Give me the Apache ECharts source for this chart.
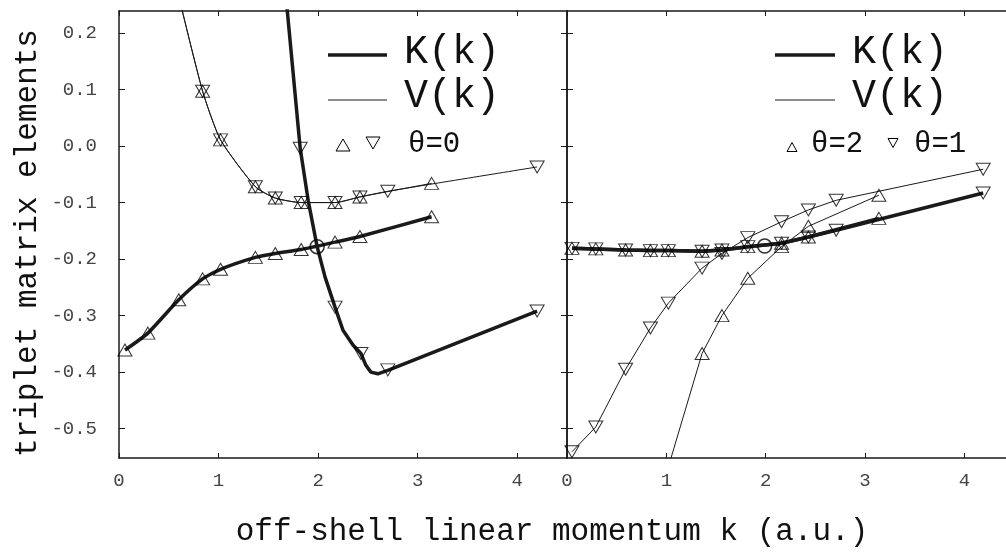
<!DOCTYPE html>
<html>
<head>
<meta charset="utf-8">
<script src="https://cdn.jsdelivr.net/npm/echarts@6/dist/echarts.min.js"></script>
<style>
  html, body { margin: 0; background: #fff; }
  #chart { width: 1006px; height: 559px; }
</style>
</head>
<body>
<div id="chart"></div>
<script>
// tick labels
const xTicks = [0, 1, 2, 3, 4];
const yTicks = [-0.5, -0.4, -0.3, -0.2, -0.1, 0.0, 0.1, 0.2];

// left panel, theta = 0
const kUpK0 = [0.06, 0.29, 0.60, 0.84, 1.02, 1.37, 1.57, 1.83, 2.17, 2.42, 3.14];
const upK0 = [-0.361, -0.331, -0.272, -0.235, -0.218, -0.197, -0.190, -0.183, -0.170, -0.160, -0.125];
const kUpV0 = [0.60, 0.84, 1.02, 1.37, 1.57, 1.83, 2.17, 2.42, 3.14];
const upV0 = [0.265, 0.097, 0.011, -0.072, -0.092, -0.100, -0.100, -0.090, -0.066];
const kDownV0 = [0.60, 0.84, 1.02, 1.37, 1.57, 1.83, 2.17, 2.42, 2.70, 4.20];
const downV0 = [0.265, 0.097, 0.011, -0.072, -0.092, -0.100, -0.100, -0.090, -0.080, -0.037];
const kDownK0 = [1.57, 1.82, 2.17, 2.43, 2.70, 4.20];
const downK0 = [0.46, -0.004, -0.285, -0.367, -0.396, -0.292];
// K curve of the down branch
const kCurveK0 = [1.57, 1.69, 1.82, 1.90, 1.99, 2.07, 2.17, 2.25, 2.35, 2.43, 2.48, 2.53, 2.60, 2.70, 4.20];
const curveK0 = [0.46, 0.24, -0.004, -0.096, -0.178, -0.232, -0.285, -0.326, -0.352, -0.367, -0.388, -0.400, -0.403, -0.397, -0.292];
const onShellK = [1.99];
const onShell0 = [-0.178];

// right panel, theta = 2 (up) and theta = 1 (down)
const kUpK1 = [0.05, 0.29, 0.59, 0.84, 1.02, 1.36, 1.56, 1.82, 2.16, 2.43, 3.14];
const upK1 = [-0.181, -0.182, -0.184, -0.185, -0.185, -0.186, -0.184, -0.178, -0.172, -0.161, -0.128];
const kDownK1 = [0.05, 0.29, 0.59, 0.84, 1.02, 1.36, 1.56, 1.82, 2.16, 2.43, 2.71, 4.19];
const downK1 = [-0.181, -0.182, -0.184, -0.185, -0.185, -0.186, -0.184, -0.178, -0.172, -0.161, -0.149, -0.083];
const kDownV1 = [0.05, 0.29, 0.59, 0.84, 1.02, 1.36, 1.56, 1.82, 2.16, 2.43, 2.71, 4.19];
const downV1 = [-0.541, -0.497, -0.395, -0.322, -0.278, -0.216, -0.190, -0.162, -0.134, -0.113, -0.096, -0.041];
const kUpV1 = [1.02, 1.36, 1.56, 1.82, 2.16, 2.43, 3.14];
const upV1 = [-0.568, -0.367, -0.300, -0.234, -0.178, -0.142, -0.087];
const onShell1 = [-0.177];

const pairs = (ks, vs) => ks.map((k, i) => [k, vs[i]]);

const chart = echarts.init(document.getElementById("chart"), null, {
  width: 1006,
  height: 559,
});

const ink = "#1a1a1a";
const tickFont = { fontFamily: "Liberation Mono", fontSize: 19, color: "#444" };

function xAxis(grid, pos, labels) {
  return {
    type: "value",
    gridIndex: grid,
    position: pos,
    min: 0,
    max: 4.5,
    axisLine: { show: true, onZero: false, lineStyle: { color: ink, width: 1.5 } },
    axisTick: { show: true, inside: true, length: 5, customValues: xTicks, lineStyle: { color: ink } },
    axisLabel: { show: labels, customValues: xTicks, margin: 13, ...tickFont },
    splitLine: { show: false },
  };
}

function yAxis(grid, pos, labels) {
  return {
    type: "value",
    gridIndex: grid,
    position: pos,
    min: -0.552,
    max: 0.239,
    axisLine: { show: true, onZero: false, lineStyle: { color: ink, width: 1.5 } },
    axisTick: { show: true, inside: true, length: 6, customValues: yTicks, lineStyle: { color: ink } },
    axisLabel: {
      show: labels,
      customValues: yTicks,
      margin: 22,
      formatter: (v) => v.toFixed(1),
      ...tickFont,
    },
    splitLine: { show: false },
  };
}

function curve(axis, data, width, smooth) {
  return {
    type: "line",
    xAxisIndex: axis,
    yAxisIndex: axis,
    data: data,
    showSymbol: false,
    smooth: smooth,
    lineStyle: { color: ink, width: width },
    z: 2,
  };
}

function marks(axis, data, down) {
  return {
    type: "scatter",
    xAxisIndex: axis,
    yAxisIndex: axis,
    data: data,
    symbol: "triangle",
    symbolSize: [14, 12],
    symbolRotate: down ? 180 : 0,
    itemStyle: { color: "transparent", borderColor: "#000", borderWidth: 1 },
    z: 3,
  };
}

function ring(axis, data) {
  return {
    type: "scatter",
    xAxisIndex: axis,
    yAxisIndex: axis,
    data: data,
    symbol: "circle",
    symbolSize: 14,
    itemStyle: { color: "transparent", borderColor: "#000", borderWidth: 1.5 },
    z: 4,
  };
}

const legendFont = '40px "Liberation Mono"';
const thetaFont = '29px "Liberation Mono"';

function legendText(text, x, y, font) {
  return {
    type: "text",
    x: x,
    y: y,
    style: { text: text, font: font, fill: "#111", align: "left", verticalAlign: "middle" },
  };
}

function legendLine(x1, x2, y, width) {
  return {
    type: "line",
    shape: { x1: x1, y1: y, x2: x2, y2: y },
    style: { stroke: ink, lineWidth: width },
  };
}

function tri(cx, cy, w, h, down) {
  const s = down ? -1 : 1;
  return {
    type: "polygon",
    shape: {
      points: [
        [cx - w / 2, cy + (s * h) / 2],
        [cx + w / 2, cy + (s * h) / 2],
        [cx, cy - (s * h) / 2],
      ],
    },
    style: { fill: "none", stroke: "#000", lineWidth: 1 },
  };
}

const option = {
  animation: false,
  backgroundColor: "#fff",
  grid: [
    { left: 119, top: 11, width: 448, height: 447, outerBoundsMode: "none" },
    { left: 567, top: 11, width: 447, height: 447, outerBoundsMode: "none" },
  ],
  xAxis: [
    xAxis(0, "bottom", true),
    xAxis(0, "top", false),
    xAxis(1, "bottom", true),
    xAxis(1, "top", false),
  ],
  yAxis: [
    yAxis(0, "left", true),
    yAxis(0, "right", false),
    yAxis(1, "left", false),
    yAxis(1, "right", false),
  ],
  series: [
    // theta = 0
    curve(0, pairs(kUpK0, upK0), 3.5, 0.2),
    curve(0, pairs(kCurveK0, curveK0), 3.5, false),
    curve(0, pairs(kUpV0, upV0), 1, 0.2),
    curve(0, pairs(kDownV0, downV0), 1, 0.2),
    marks(0, pairs(kUpK0, upK0).concat(pairs(kUpV0, upV0)), false),
    marks(0, pairs(kDownK0, downK0).concat(pairs(kDownV0, downV0)), true),
    ring(0, pairs(onShellK, onShell0)),
    // theta = 2 and theta = 1
    curve(2, pairs(kUpK1, upK1), 3.5, false),
    curve(2, pairs(kDownK1, downK1), 3.5, false),
    curve(2, pairs(kDownV1, downV1), 1, false),
    curve(2, pairs(kUpV1, upV1), 1, false),
    marks(2, pairs(kUpK1, upK1).concat(pairs(kUpV1, upV1)), false),
    marks(2, pairs(kDownK1, downK1).concat(pairs(kDownV1, downV1)), true),
    ring(2, pairs(onShellK, onShell1)),
  ],
  graphic: [
    // axis titles
    {
      type: "text",
      x: 552,
      y: 532,
      style: {
        text: "off-shell linear momentum k (a.u.)",
        font: '31px "Liberation Mono"',
        fill: "#111",
        align: "center",
        verticalAlign: "middle",
      },
    },
    {
      type: "text",
      x: 28,
      y: 243,
      rotation: Math.PI / 2,
      style: {
        text: "triplet matrix elements",
        font: '31px "Liberation Mono"',
        fill: "#111",
        align: "center",
        verticalAlign: "middle",
      },
    },
    // left legend
    legendLine(328, 387, 55, 3.5),
    legendText("K(k)", 404, 52, legendFont),
    legendLine(328, 387, 100, 1),
    legendText("V(k)", 404, 96, legendFont),
    tri(343, 145, 14, 12, false),
    tri(373, 143, 14, 12, true),
    legendText("θ=0", 408, 144, thetaFont),
    // right legend
    legendLine(775, 835, 55, 3.5),
    legendText("K(k)", 852, 52, legendFont),
    legendLine(775, 835, 100, 1),
    legendText("V(k)", 852, 96, legendFont),
    tri(792, 147, 10, 9, false),
    legendText("θ=2", 811, 144, thetaFont),
    tri(893, 143, 10, 9, true),
    legendText("θ=1", 914, 144, thetaFont),
  ],
};

chart.setOption(option);
</script>
</body>
</html>
